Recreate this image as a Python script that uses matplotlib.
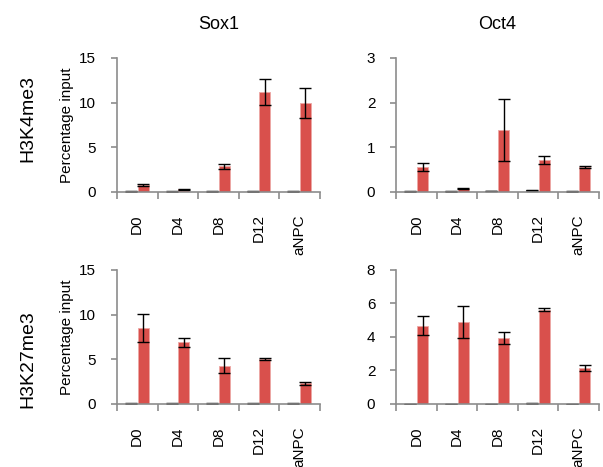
import numpy as np
import matplotlib
matplotlib.use("Agg")
import matplotlib.pyplot as plt

plt.rcParams['font.family'] = ['Liberation Sans', 'DejaVu Sans']

samples = ['D0', 'D4', 'D8', 'D12', 'aNPC']
genes = ['Sox1', 'Oct4']
marks = ['H3K4me3', 'H3K27me3']

# control (gray) and ChIP (red) percentage input, with error
k4_sox1_ctrl = [0.05, 0.04, 0.05, 0.05, 0.05]
k4_sox1_ctrl_err = [0.02, 0.02, 0.02, 0.02, 0.02]
k4_sox1 = [0.75, 0.3, 2.86, 11.15, 9.95]
k4_sox1_err = [0.1, 0.05, 0.26, 1.45, 1.7]

k4_oct4_ctrl = [0.01, 0.01, 0.02, 0.04, 0.01]
k4_oct4_ctrl_err = [0.005, 0.005, 0.005, 0.01, 0.005]
k4_oct4 = [0.55, 0.07, 1.39, 0.72, 0.56]
k4_oct4_err = [0.09, 0.01, 0.7, 0.09, 0.02]

k27_sox1_ctrl = [0.05, 0.04, 0.05, 0.05, 0.05]
k27_sox1_ctrl_err = [0.02, 0.02, 0.02, 0.02, 0.02]
k27_sox1 = [8.5, 6.88, 4.28, 5.0, 2.3]
k27_sox1_err = [1.55, 0.55, 0.82, 0.12, 0.15]

k27_oct4_ctrl = [0.01, 0.01, 0.01, 0.03, 0.01]
k27_oct4_ctrl_err = [0.005, 0.005, 0.005, 0.01, 0.005]
k27_oct4 = [4.66, 4.9, 3.93, 5.62, 2.15]
k27_oct4_err = [0.57, 0.96, 0.37, 0.1, 0.2]

panels = [
    (k4_sox1_ctrl, k4_sox1_ctrl_err, k4_sox1, k4_sox1_err, 15, 5),
    (k4_oct4_ctrl, k4_oct4_ctrl_err, k4_oct4, k4_oct4_err, 3, 1),
    (k27_sox1_ctrl, k27_sox1_ctrl_err, k27_sox1, k27_sox1_err, 15, 5),
    (k27_oct4_ctrl, k27_oct4_ctrl_err, k27_oct4, k27_oct4_err, 8, 2),
]

fig = plt.figure(figsize=(6.03, 4.67), dpi=100)
lefts = [0.194, 0.657]
bottoms = [0.589, 0.135]
w, h = 0.336, 0.287
red = '#d9504c'
spine = '#8c8c8c'
x = np.arange(len(samples))
bw = 0.27

for i, (ctrl, ctrl_err, val, err, ymax, step) in enumerate(panels):
    r, c = divmod(i, 2)
    ax = fig.add_axes([lefts[c], bottoms[r], w, h])
    ax.bar(x - 0.15, ctrl, bw, color='#555555', edgecolor='#444444', linewidth=0.8,
           yerr=ctrl_err, error_kw=dict(ecolor='black', elinewidth=1, capsize=4, capthick=1))
    ax.bar(x + 0.15, val, bw, color=red, edgecolor='#eda7a4', linewidth=0.6,
           yerr=err, error_kw=dict(ecolor='black', elinewidth=1, capsize=4, capthick=1))
    ax.set_xlim(-0.5, len(samples) - 0.5)
    ax.set_ylim(0, ymax)
    ax.set_yticks(np.arange(0, ymax + step / 2, step))
    ax.set_xticks(x)
    ax.set_xticklabels(samples, rotation=90, fontsize=11)
    ax.set_xticks(np.arange(-0.5, len(samples)), minor=True)
    ax.tick_params(axis='x', which='major', length=0, pad=16)
    ax.tick_params(axis='x', which='minor', length=5, color=spine, width=1.2)
    ax.tick_params(axis='y', length=4, color=spine, width=1.2, labelsize=11, pad=11)
    for s in ['top', 'right']:
        ax.spines[s].set_visible(False)
    for s in ['left', 'bottom']:
        ax.spines[s].set_color(spine)
        ax.spines[s].set_linewidth(1.2)
    if c == 0:
        ax.set_ylabel('Percentage input', fontsize=11, labelpad=4)
    if r == 0:
        ax.set_title(genes[c], fontsize=13, pad=21)

fig.text(0.047, 0.747, marks[0], rotation=90, fontsize=14, ha='center', va='center')
fig.text(0.047, 0.232, marks[1], rotation=90, fontsize=14, ha='center', va='center')

fig.savefig('out.png', dpi=100)
